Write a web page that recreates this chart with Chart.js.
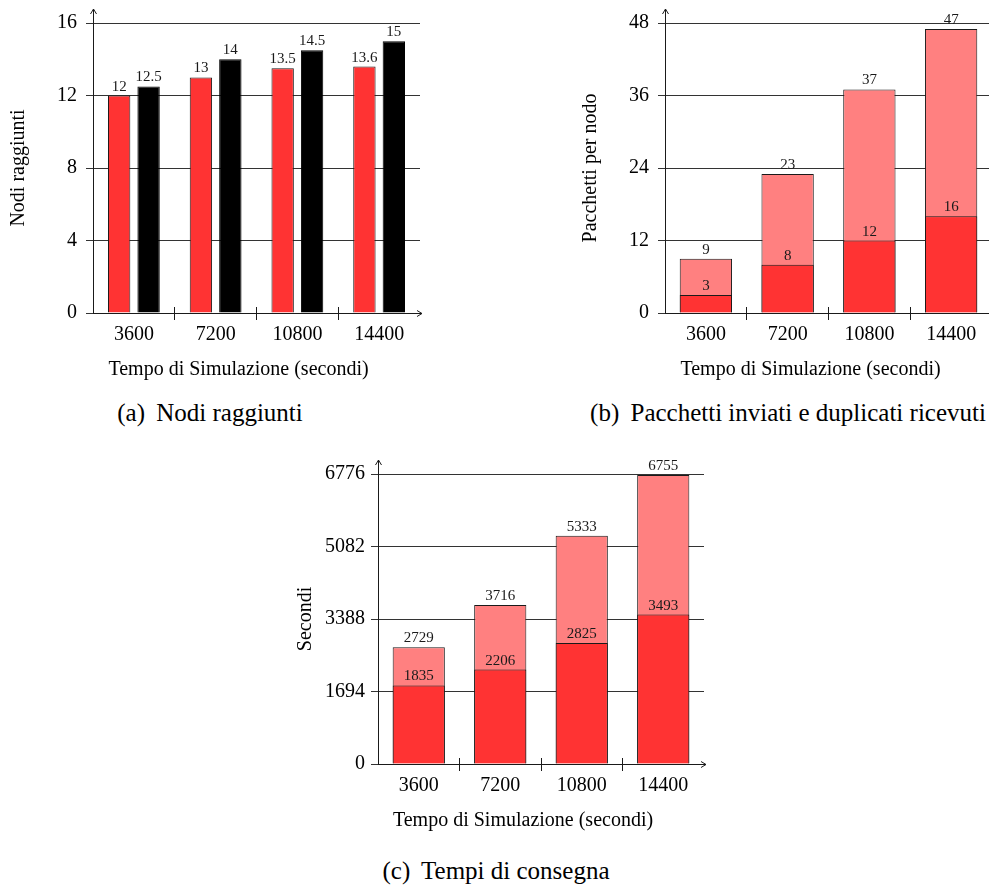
<!DOCTYPE html>
<html>
<head>
<meta charset="utf-8">
<script src="https://cdn.jsdelivr.net/npm/chart.js@4.4.1/dist/chart.umd.min.js"></script>
<style>
  html, body { margin: 0; padding: 0; background: #fff; overflow: hidden; }
  body { width: 989px; height: 887px; position: relative; font-family: 'Liberation Serif', 'Times New Roman', serif; }
  canvas { position: absolute; }
  .cap { position: absolute; font-size: 25px; line-height: 30px; color: #000; white-space: nowrap; transform: translateX(-50%); }
</style>
</head>
<body>
<canvas id="chartA" width="440" height="390" style="left:0;top:0"></canvas>
<canvas id="chartB" width="440" height="390" style="left:560px;top:0"></canvas>
<canvas id="chartC" width="440" height="400" style="left:280px;top:440px"></canvas>
<div class="cap" style="left:210px;top:398px">(a)&thinsp; Nodi raggiunti</div>
<div class="cap" style="left:788px;top:398px">(b)&thinsp; Pacchetti inviati e duplicati ricevuti</div>
<div class="cap" style="left:496px;top:856px">(c)&thinsp; Tempi di consegna</div>
<script>
const categories = ['3600', '7200', '10800', '14400'];

// (a) nodi raggiunti
const reachedRed = [12, 13, 13.5, 13.6];
const reachedBlack = [12.5, 14, 14.5, 15];
const ticksA = [0, 4, 8, 12, 16];

// (b) pacchetti per nodo
const packetsSent = [9, 23, 37, 47];
const packetsDup = [3, 8, 12, 16];
const ticksB = [0, 12, 24, 36, 48];

// (c) tempi di consegna
const deliveryMax = [2729, 3716, 5333, 6755];
const deliveryAvg = [1835, 2206, 2825, 3493];
const ticksC = [0, 1694, 3388, 5082, 6776];

const FONT = "'Liberation Serif', 'Times New Roman', serif";
const RED = '#ff3333';
const PINK = '#ff8080';
const INK = '#1a1a1a';
const GRID = '#333';

const align = (p) => Math.round(p - 0.5) + 0.5;

// pgfplots-like decorations: arrow tips, tick marks between groups, value labels, x title
const axisDecor = {
  id: 'axisDecor',
  afterDraw(chart, args, opts) {
    const { ctx, chartArea: a } = chart;
    const xScale = chart.scales.x;
    const ax = align(a.left);
    const ay = align(a.bottom);
    ctx.save();
    ctx.strokeStyle = INK;
    ctx.lineWidth = 1;

    // y axis extension + arrow
    const tipY = a.top - 14;
    ctx.beginPath();
    ctx.moveTo(ax, a.top);
    ctx.lineTo(ax, tipY);
    ctx.moveTo(ax - 3, tipY + 5);
    ctx.lineTo(ax, tipY);
    ctx.lineTo(ax + 3, tipY + 5);
    ctx.stroke();

    // x axis arrow
    const tipX = a.right + 2;
    ctx.beginPath();
    ctx.moveTo(a.right, ay);
    ctx.lineTo(tipX, ay);
    ctx.moveTo(tipX - 5, ay - 3);
    ctx.lineTo(tipX, ay);
    ctx.lineTo(tipX - 5, ay + 3);
    ctx.stroke();

    // tick marks between categories
    ctx.beginPath();
    for (let i = 1; i < categories.length; i++) {
      const bx = align((xScale.getPixelForValue(i - 1) + xScale.getPixelForValue(i)) / 2);
      ctx.moveTo(bx, ay - 6.5);
      ctx.lineTo(bx, ay + 6.5);
    }
    ctx.stroke();

    // value labels above bars
    ctx.fillStyle = INK;
    ctx.font = `15px ${FONT}`;
    ctx.textAlign = 'center';
    ctx.textBaseline = 'alphabetic';
    chart.data.datasets.forEach((ds, di) => {
      chart.getDatasetMeta(di).data.forEach((el, i) => {
        ctx.fillText(String(ds.data[i]), el.x, el.y - 5);
      });
    });

    // x axis title (pgfplots puts it a bit left of centre)
    ctx.fillStyle = '#000';
    ctx.font = `20px ${FONT}`;
    ctx.textBaseline = 'middle';
    ctx.fillText(opts.xTitle, (a.left + a.right) / 2 - 18, a.bottom + 57);
    ctx.restore();
  }
};

function barChart(id, datasets, o) {
  return new Chart(document.getElementById(id), {
    type: 'bar',
    plugins: [axisDecor],
    data: { labels: categories, datasets },
    options: {
      responsive: false,
      animation: false,
      events: [],
      layout: { padding: { left: 0, top: o.top, right: o.right, bottom: 0 } },
      scales: {
        x: {
          offset: true,
          grid: { display: false, drawTicks: false },
          border: { display: true, color: INK, width: 1 },
          ticks: {
            color: '#000', font: { family: FONT, size: 20 }, padding: 10,
            maxRotation: 0, autoSkip: false,
          },
          afterFit(scale) { scale.height = o.xHeight; },
        },
        y: {
          min: 0,
          max: o.ticks[o.ticks.length - 1],
          grid: { color: GRID, lineWidth: 1, tickLength: 7 },
          border: { display: true, color: INK, width: 1 },
          ticks: {
            color: '#000', font: { family: FONT, size: 20 }, padding: o.tickPad,
            callback: (v) => String(v),
          },
          afterBuildTicks(scale) { scale.ticks = o.ticks.map(v => ({ value: v })); },
          afterFit(scale) { scale.width = o.yWidth; },
          title: {
            display: true, text: o.yTitle, color: '#000',
            font: { family: FONT, size: 20 }, padding: { top: o.yTitlePad, bottom: 0 },
          },
        },
      },
      plugins: {
        legend: { display: false },
        tooltip: { enabled: false },
        axisDecor: { xTitle: 'Tempo di Simulazione (secondi)' },
      },
    },
  });
}

barChart('chartA', [
  { data: reachedRed, backgroundColor: RED, borderColor: INK, borderWidth: 1, categoryPercentage: 0.72, barPercentage: 0.76 },
  { data: reachedBlack, backgroundColor: '#000', borderColor: '#000', borderWidth: 1, categoryPercentage: 0.72, barPercentage: 0.76 },
], { top: 23, right: 20, xHeight: 77, yWidth: 93, ticks: ticksA, tickPad: 9, yTitle: 'Nodi raggiunti', yTitlePad: 7 });

barChart('chartB', [
  { data: packetsDup, backgroundColor: RED, borderColor: INK, borderWidth: 1, grouped: false, categoryPercentage: 0.8, barPercentage: 0.8 },
  { data: packetsSent, backgroundColor: PINK, borderColor: INK, borderWidth: 1, grouped: false, categoryPercentage: 0.8, barPercentage: 0.8 },
], { top: 23, right: 8, xHeight: 77, yWidth: 105, ticks: ticksB, tickPad: 9, yTitle: 'Pacchetti per nodo', yTitlePad: 19 });

barChart('chartC', [
  { data: deliveryAvg, backgroundColor: RED, borderColor: INK, borderWidth: 1, grouped: false, categoryPercentage: 0.8, barPercentage: 0.8 },
  { data: deliveryMax, backgroundColor: PINK, borderColor: INK, borderWidth: 1, grouped: false, categoryPercentage: 0.8, barPercentage: 0.8 },
], { top: 34, right: 16, xHeight: 76, yWidth: 98, ticks: ticksC, tickPad: 6, yTitle: 'Secondi', yTitlePad: 14 });
</script>
</body>
</html>
